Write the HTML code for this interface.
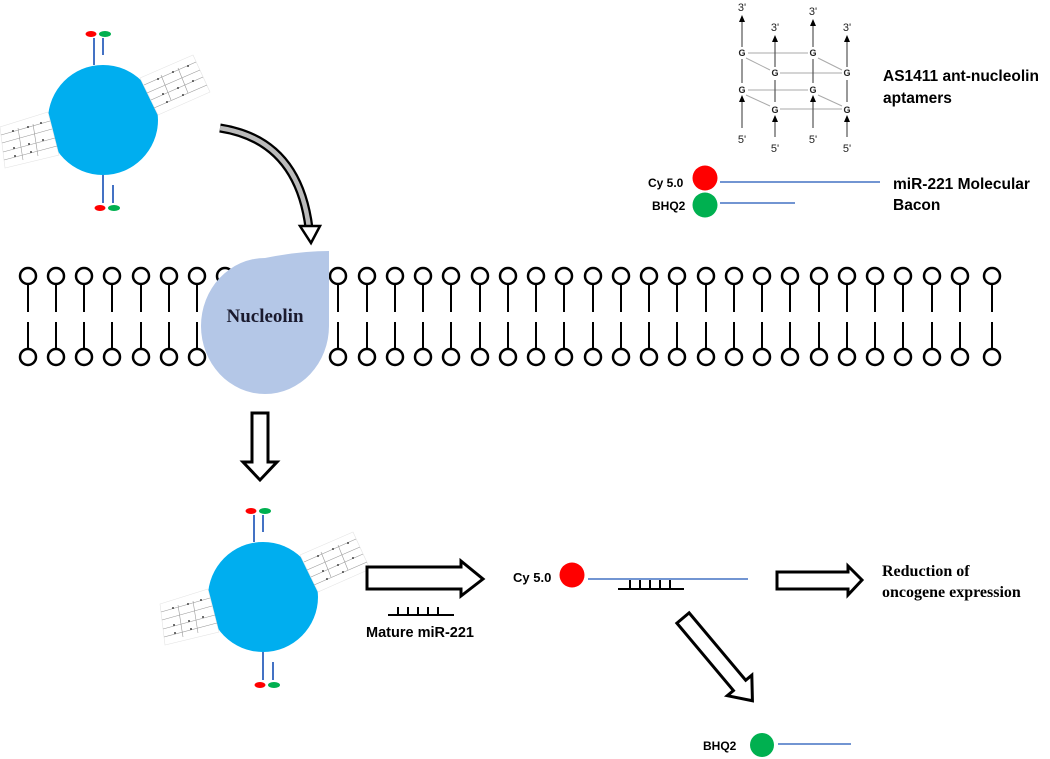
<!DOCTYPE html>
<html><head><meta charset="utf-8"><style>
html,body{margin:0;padding:0;background:#fff;}
svg{display:block;}
.c{font-family:"Liberation Sans",sans-serif;font-weight:bold;}
.t{font-family:"Liberation Serif",serif;font-weight:bold;}
</style></head><body>
<svg width="1050" height="759" viewBox="0 0 1050 759" xmlns="http://www.w3.org/2000/svg">
<defs>
<g id="np">
  <circle cx="0" cy="0" r="55" fill="#00aeef"/>
  <polygon points="-103,7 -55,-8 -44,35 -98,48" fill="#fff" stroke="#e4e4e4" stroke-width="0.6"/>
  <polygon points="37,-42 90,-65 107,-28 55,-5" fill="#fff" stroke="#e4e4e4" stroke-width="0.6"/>
  <g stroke="#999" stroke-width="0.6">
    <line x1="-102" y1="15" x2="-53" y2="1"/><line x1="-101" y1="23" x2="-51" y2="9"/>
    <line x1="-100" y1="32" x2="-48" y2="18"/><line x1="-99" y1="40" x2="-46" y2="26"/>
    <line x1="-85" y1="8" x2="-80" y2="40"/><line x1="-70" y1="4" x2="-65" y2="36"/>
    <line x1="41" y1="-35" x2="93" y2="-58"/><line x1="44" y1="-27" x2="97" y2="-50"/>
    <line x1="48" y1="-20" x2="100" y2="-43"/><line x1="51" y1="-12" x2="104" y2="-35"/>
    <line x1="58" y1="-45" x2="68" y2="-20"/><line x1="75" y1="-52" x2="85" y2="-27"/>
  </g>
  <g fill="#444">
    <circle cx="-90" cy="11" r="1"/><circle cx="-75" cy="7" r="1"/><circle cx="-62" cy="3" r="1"/>
    <circle cx="-89" cy="28" r="1"/><circle cx="-74" cy="24" r="1"/><circle cx="-60" cy="20" r="1"/>
    <circle cx="-88" cy="36" r="1"/><circle cx="-72" cy="32" r="1"/>
    <circle cx="55" cy="-41" r="1"/><circle cx="70" cy="-48" r="1"/><circle cx="85" cy="-54" r="1"/>
    <circle cx="60" cy="-26" r="1"/><circle cx="75" cy="-32" r="1"/><circle cx="90" cy="-39" r="1"/>
    <circle cx="64" cy="-18" r="1"/><circle cx="80" cy="-25" r="1"/>
  </g>
  <line x1="-9" y1="-55" x2="-9" y2="-82" stroke="#4472c4" stroke-width="2"/>
  <line x1="0" y1="-65" x2="0" y2="-82" stroke="#4472c4" stroke-width="2"/>
  <ellipse cx="-12" cy="-86" rx="5.5" ry="3" fill="#f00"/>
  <ellipse cx="2" cy="-86" rx="6" ry="3" fill="#00b050"/>
  <line x1="0" y1="55" x2="0" y2="83" stroke="#4472c4" stroke-width="2"/>
  <line x1="10" y1="65" x2="10" y2="83" stroke="#4472c4" stroke-width="2"/>
  <ellipse cx="-3" cy="88" rx="5.5" ry="3" fill="#f00"/>
  <ellipse cx="11" cy="88" rx="6" ry="3" fill="#00b050"/>
</g>
<g id="lip">
  <circle cx="0" cy="0" r="8" fill="#fff" stroke="#000" stroke-width="2.5"/>
  <line x1="0" y1="8" x2="0" y2="36" stroke="#000" stroke-width="2"/>
  <line x1="0" y1="46" x2="0" y2="73" stroke="#000" stroke-width="2"/>
  <circle cx="0" cy="81" r="8" fill="#fff" stroke="#000" stroke-width="2.5"/>
</g>
</defs>

<g>
<use href="#lip" x="28" y="276"/><use href="#lip" x="56" y="276"/><use href="#lip" x="84" y="276"/><use href="#lip" x="112" y="276"/><use href="#lip" x="141" y="276"/><use href="#lip" x="169" y="276"/><use href="#lip" x="197" y="276"/><use href="#lip" x="225" y="276"/><use href="#lip" x="254" y="276"/><use href="#lip" x="282" y="276"/><use href="#lip" x="310" y="276"/><use href="#lip" x="338" y="276"/><use href="#lip" x="367" y="276"/><use href="#lip" x="395" y="276"/><use href="#lip" x="423" y="276"/><use href="#lip" x="451" y="276"/><use href="#lip" x="480" y="276"/><use href="#lip" x="508" y="276"/><use href="#lip" x="536" y="276"/><use href="#lip" x="564" y="276"/><use href="#lip" x="593" y="276"/><use href="#lip" x="621" y="276"/><use href="#lip" x="649" y="276"/><use href="#lip" x="677" y="276"/><use href="#lip" x="706" y="276"/><use href="#lip" x="734" y="276"/><use href="#lip" x="762" y="276"/><use href="#lip" x="790" y="276"/><use href="#lip" x="819" y="276"/><use href="#lip" x="847" y="276"/><use href="#lip" x="875" y="276"/><use href="#lip" x="903" y="276"/><use href="#lip" x="932" y="276"/><use href="#lip" x="960" y="276"/><use href="#lip" x="992" y="276"/>
</g>
<path d="M329,251 L329,326 A64,68 0 1 1 265,258 Q300,251 329,251 Z" fill="#b4c7e7"/>
<text x="265" y="322" text-anchor="middle" class="t" font-size="19" fill="#1a1a2e">Nucleolin</text>

<use href="#np" transform="translate(103,120)"/>
<use href="#np" transform="translate(263,597)"/>

<path d="M220,128 Q298,140 309,228" fill="none" stroke="#000" stroke-width="9"/>
<path d="M220,128 Q298,140 309,228" fill="none" stroke="#bbb" stroke-width="4.5"/>
<polygon points="300,226 320,226 311,243" fill="#fff" stroke="#000" stroke-width="2.5"/>

<polygon points="252,413 268,413 268,462 277,462 260,480 243,462 252,462" fill="#fff" stroke="#000" stroke-width="3"/>

<polygon points="367,567 461,567 461,561 483,579 461,596 461,589 367,589" fill="#fff" stroke="#000" stroke-width="3"/>
<polygon points="777,572 848,572 848,566 862,580 848,595 848,589 777,589" fill="#fff" stroke="#000" stroke-width="3"/>
<polygon points="0,-8 88,-8 88,-16 108,0 88,16 88,8 0,8" fill="#fff" stroke="#000" stroke-width="3" transform="translate(683,618) rotate(50)"/>

<g stroke="#000" stroke-width="2">
<line x1="388" y1="615" x2="454" y2="615"/>
<line x1="398" y1="607" x2="398" y2="615"/><line x1="408" y1="607" x2="408" y2="615"/><line x1="418" y1="607" x2="418" y2="615"/><line x1="428" y1="607" x2="428" y2="615"/><line x1="438" y1="607" x2="438" y2="615"/>
</g>
<text x="366" y="637" class="c" font-size="14.5">Mature miR-221</text>

<text x="513" y="582" class="c" font-size="13">Cy 5.0</text>
<circle cx="572" cy="575" r="12.5" fill="#f00"/>
<line x1="588" y1="579" x2="748" y2="579" stroke="#4472c4" stroke-width="1.5"/>
<g stroke="#000" stroke-width="2">
<line x1="618" y1="589" x2="684" y2="589"/>
<line x1="630" y1="580" x2="630" y2="589"/><line x1="640" y1="580" x2="640" y2="589"/><line x1="650" y1="580" x2="650" y2="589"/><line x1="660" y1="580" x2="660" y2="589"/><line x1="670" y1="580" x2="670" y2="589"/>
</g>
<text x="882" y="576" class="t" font-size="16">Reduction of</text>
<text x="882" y="597" class="t" font-size="16">oncogene expression</text>

<text x="703" y="750" class="c" font-size="12">BHQ2</text>
<circle cx="762" cy="745" r="12" fill="#00b050"/>
<line x1="778" y1="744" x2="851" y2="744" stroke="#4472c4" stroke-width="1.5"/>

<g stroke="#aaa" stroke-width="1">
<line x1="748" y1="53" x2="808" y2="53"/><line x1="780" y1="73" x2="842" y2="73"/>
<line x1="748" y1="90" x2="808" y2="90"/><line x1="780" y1="109" x2="842" y2="109"/>
<line x1="746" y1="58" x2="770" y2="70"/><line x1="818" y1="58" x2="842" y2="70"/>
<line x1="746" y1="95" x2="770" y2="106"/><line x1="818" y1="95" x2="842" y2="106"/>
</g>
<g stroke="#555" stroke-width="1.2">
<line x1="742" y1="59" x2="742" y2="83"/><line x1="813" y1="59" x2="813" y2="83"/>
<line x1="775" y1="80" x2="775" y2="102"/><line x1="847" y1="80" x2="847" y2="102"/>
<line x1="742" y1="18" x2="742" y2="47"/><line x1="775" y1="38" x2="775" y2="67"/>
<line x1="813" y1="22" x2="813" y2="47"/><line x1="847" y1="38" x2="847" y2="67"/>
<line x1="742" y1="98" x2="742" y2="128"/><line x1="775" y1="118" x2="775" y2="137"/>
<line x1="813" y1="98" x2="813" y2="128"/><line x1="847" y1="118" x2="847" y2="137"/>
</g>
<g fill="#000">
<polygon points="739,22 745,22 742,15"/><polygon points="772,42 778,42 775,35"/><polygon points="810,26 816,26 813,19"/><polygon points="844,42 850,42 847,35"/>
<polygon points="739,102 745,102 742,95"/><polygon points="772,122 778,122 775,115"/><polygon points="810,102 816,102 813,95"/><polygon points="844,122 850,122 847,115"/>
</g>
<g font-family="Liberation Sans,sans-serif" font-size="9" font-weight="bold" text-anchor="middle" fill="#222">
<text x="742" y="56">G</text><text x="813" y="56">G</text><text x="775" y="76">G</text><text x="847" y="76">G</text>
<text x="742" y="93">G</text><text x="813" y="93">G</text><text x="775" y="113">G</text><text x="847" y="113">G</text>
</g>
<g font-family="Liberation Sans,sans-serif" font-size="11" text-anchor="middle" fill="#222">
<text x="742" y="11">3'</text><text x="775" y="31">3'</text><text x="813" y="15">3'</text><text x="847" y="31">3'</text>
<text x="742" y="143">5'</text><text x="775" y="152">5'</text><text x="813" y="143">5'</text><text x="847" y="152">5'</text>
</g>
<text x="883" y="81" class="c" font-size="15.5">AS1411 ant-nucleolin</text>
<text x="883" y="103" class="c" font-size="15.5">aptamers</text>

<text x="648" y="187" class="c" font-size="12">Cy 5.0</text>
<circle cx="705" cy="178" r="12.5" fill="#f00"/>
<line x1="720" y1="182" x2="880" y2="182" stroke="#4472c4" stroke-width="1.5"/>
<text x="652" y="210" class="c" font-size="12">BHQ2</text>
<circle cx="705" cy="205" r="12.5" fill="#00b050"/>
<line x1="720" y1="203" x2="795" y2="203" stroke="#4472c4" stroke-width="1.5"/>
<text x="893" y="189" class="c" font-size="15.5">miR-221 Molecular</text>
<text x="893" y="210" class="c" font-size="15.5">Bacon</text>
</svg>
</body></html>
